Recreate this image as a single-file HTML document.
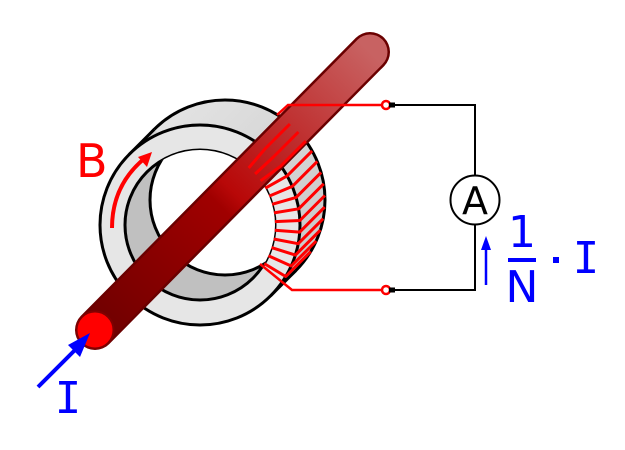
<!DOCTYPE html>
<html><head><meta charset="utf-8"><style>html,body{margin:0;padding:0;background:#fff}svg{display:block}</style></head>
<body>
<svg width="625" height="450" viewBox="0 0 625 450" xmlns="http://www.w3.org/2000/svg">
<defs>
<linearGradient id="rg" gradientUnits="userSpaceOnUse" x1="95" y1="330" x2="370" y2="52">
<stop offset="0" stop-color="#6e0000"/><stop offset="0.45" stop-color="#a00000"/><stop offset="0.5" stop-color="#b80808"/><stop offset="1" stop-color="#c86262"/>
</linearGradient>
<linearGradient id="gg" x1="0" y1="0" x2="1" y2="1">
<stop offset="0" stop-color="#e8e8e8"/><stop offset="1" stop-color="#c4c4c4"/>
</linearGradient>
<clipPath id="fi"><circle cx="200" cy="225" r="75"/></clipPath>
</defs>
<circle cx="225" cy="200" r="100" fill="url(#gg)" stroke="#000" stroke-width="3"/>
<polygon points="270.7,295.7 295.7,270.7 154.3,129.3 129.3,154.3" fill="#d4d4d4"/>
<path d="M270.7,295.7 L295.7,270.7 M154.3,129.3 L129.3,154.3" stroke="#000" stroke-width="3"/>
<circle cx="200" cy="225" r="100" fill="#e6e6e6" stroke="#000" stroke-width="3"/>
<circle cx="200" cy="225" r="75" fill="#c0c0c0" stroke="#000" stroke-width="3"/>
<circle cx="225" cy="200" r="75" fill="#fff" stroke="#000" stroke-width="3" clip-path="url(#fi)"/>
<line x1="95" y1="330" x2="370" y2="52" stroke="#6a0000" stroke-width="40" stroke-linecap="round"/>
<line x1="95" y1="330" x2="370" y2="52" stroke="url(#rg)" stroke-width="35" stroke-linecap="round"/>
<circle cx="95" cy="330" r="18.5" fill="#ff0000" stroke="#800000" stroke-width="2"/>
<g stroke="#ff0000" stroke-width="2.5" fill="none">
<polyline points="277,115 288,105 384,105"/>
<polyline points="260,264 292,290 384,290"/>
<circle cx="386" cy="105" r="4" fill="#fff"/>
<circle cx="386" cy="290" r="4" fill="#fff"/>
</g>
<rect x="389" y="102.5" width="6" height="5" fill="#000"/>
<rect x="389" y="287.5" width="6" height="5" fill="#000"/>
<polyline points="395,105 475,105 475,175" fill="none" stroke="#000" stroke-width="2"/>
<polyline points="395,290 475,290 475,225" fill="none" stroke="#000" stroke-width="2"/>
<circle cx="475" cy="200" r="24.5" fill="#fff" stroke="#000" stroke-width="2"/>
<text x="475" y="214" font-family="DejaVu Sans, sans-serif" font-size="38" text-anchor="middle">A</text>
<path d="M112,228 Q112,185 145,158" fill="none" stroke="#ff0000" stroke-width="4"/>
<polygon points="152,152 138,157 147,167" fill="#ff0000"/>
<text x="76" y="177" font-family="DejaVu Sans, sans-serif" font-size="46" fill="#ff0000">B</text>
<line x1="38" y1="387" x2="76" y2="349" stroke="#0000ff" stroke-width="4"/>
<polygon points="90,333 68,345 80,357" fill="#0000ff"/>
<text x="68" y="413" font-family="DejaVu Sans Mono, monospace" font-size="44" fill="#0000ff" text-anchor="middle">I</text>
<line x1="486" y1="285" x2="486" y2="248" stroke="#0000ff" stroke-width="2.5"/>
<polygon points="486,236 481,250 491,250" fill="#0000ff"/>
<text x="522" y="247" font-family="DejaVu Sans, sans-serif" font-size="44" fill="#0000ff" text-anchor="middle">1</text>
<rect x="508" y="258" width="28" height="4" fill="#0000ff"/>
<text x="522" y="302" font-family="DejaVu Sans, sans-serif" font-size="44" fill="#0000ff" text-anchor="middle">N</text>
<rect x="553" y="257" width="6" height="6" fill="#0000ff"/>
<text x="586" y="273" font-family="DejaVu Sans Mono, monospace" font-size="44" fill="#0000ff" text-anchor="middle">I</text>
<g stroke="#ff0000" stroke-width="3" fill="none" stroke-linejoin="round">
<polyline points="248.7,168 264.9,149 289.9,124"/>
<polyline points="255.1,174 273.4,157 298.4,132"/>
<polyline points="260.6,180.8 280.8,166.1 305.8,141.1"/>
<polyline points="265.3,188.2 287.1,175.9 312.1,150.9"/>
<polyline points="269.2,196.1 292.3,186.4 317.3,161.4"/>
<polyline points="272.1,204.3 296.1,197.4 321.1,172.4"/>
<polyline points="274,212.9 298.7,208.8 323.7,183.8"/>
<polyline points="274.9,221.6 299.9,220.5 324.9,195.5"/>
<polyline points="274.8,230.3 299.7,232.1 324.7,207.1"/>
<polyline points="273.7,239 298.2,243.7 323.2,218.7"/>
<polyline points="271.5,247.6 295.4,255.1 320.4,230.1"/>
<polyline points="268.4,255.8 291.2,266 316.2,241"/>
<polyline points="264.3,263.6 285.7,276.5 310.7,251.5"/>
</g>
</svg>
</body></html>
